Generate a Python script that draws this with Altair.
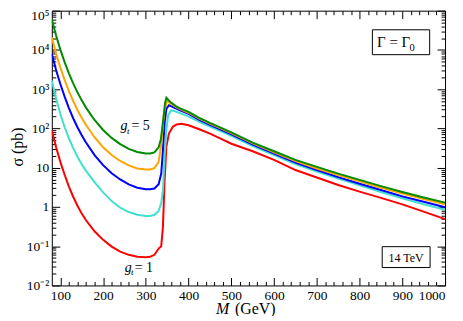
import altair as alt
import pandas as pd

FONT = "Liberation Serif, Times New Roman, serif"
W, H = 395, 276

# ---- data (sigma in pb vs M in GeV) ----
left_grid = [80, 90, 100, 110, 120, 130, 140, 150, 160, 180, 200, 220, 240, 260, 280, 300, 310, 320, 330]
right_grid = [370, 380, 400, 425, 450, 475, 500, 550, 600, 650, 700, 750, 800, 850, 900, 950, 1000]

m_green = left_grid + [335, 340, 345, 348, 355, 360] + right_grid
s_green = [60300, 23400, 10200, 4900, 2540, 1410, 832, 519, 339, 164, 91.2, 57.5, 39.8, 30.2, 25.1, 22.9,
           22.9, 24.5, 33, 52, 141, 447, 603, 501, 447, 372, 324, 263, 186, 138, 105, 79,
           43.6, 26.3, 15.8, 10.5, 7.08, 4.90, 3.39, 2.40, 1.74, 1.29]

m_orange = left_grid + [336, 340, 344, 350, 355, 360] + right_grid
s_orange = [20900, 8130, 3550, 1720, 891, 501, 295, 186, 122, 59.6, 33.1, 21.1, 14.8, 11.4, 9.55, 9.02,
            9.02, 9.77, 14.1, 39.8, 126, 316, 501, 457, 417, 355, 309, 251, 178, 132, 100, 75.9,
            41.7, 24.5, 14.8, 9.55, 6.46, 4.47, 3.09, 2.19, 1.58, 1.17]

m_blue = left_grid + [336, 340, 344, 348, 354, 360] + right_grid
s_blue = [7940, 3090, 1350, 646, 331, 182, 107, 66.8, 43.7, 20.9, 11.6, 7.24, 5.01, 3.76, 3.09, 2.82,
          2.82, 2.95, 3.80, 7.08, 28.2, 141, 316, 389, 363, 324, 288, 234, 166, 123, 93.3, 70.8,
          38.9, 22.9, 13.5, 8.71, 5.75, 3.89, 2.69, 1.86, 1.35, 0.98]

m_turq = left_grid + [336, 340, 344, 348, 352, 359, 365] + right_grid
s_turq = [1660, 575, 234, 107, 56.2, 31.6, 19.1, 12.3, 8.32, 4.27, 2.34, 1.41, 0.955, 0.741, 0.631, 0.589,
          0.589, 0.631, 0.794, 1.26, 2.69, 19.1, 89.1, 214, 288, 282, 269, 245, 200, 148, 112, 85.1, 64.6,
          35.5, 20.9, 12.3, 7.94, 5.25, 3.55, 2.40, 1.66, 1.17, 0.851]

m_red = left_grid + [336, 340, 344, 348, 354, 363, 372, 383] + [400, 425, 450, 475, 500, 550, 600, 650,
                                                              700, 750, 800, 850, 900, 950, 1000]
s_red = [89.1, 33.1, 14.1, 6.61, 3.31, 1.82, 1.07, 0.676, 0.457, 0.240, 0.145, 0.0977, 0.0724, 0.0603,
         0.0537, 0.0525, 0.0537, 0.0603, 0.0871, 0.10, 0.316, 4.90, 33.9, 74.1, 110, 126, 132,
         120, 95.5, 74.1, 55, 40.7, 26.3, 15.8, 8.71, 5.62, 3.63, 2.45, 1.70, 1.16, 0.759, 0.490]

names = ["red", "turquoise", "blue", "orange", "green"]
colors = ["#ff0000", "#40e0d0", "#0000ff", "#ffa500", "#008b00"]
series = [(m_red, s_red), (m_turq, s_turq), (m_blue, s_blue), (m_orange, s_orange), (m_green, s_green)]

x_labels = [100, 200, 300, 400, 500, 600, 700, 800, 900, 1000]
y_labels = [0.01, 0.1, 1, 10, 100, 1000, 10000, 100000]
y_label_text = ["10⁻²", "10⁻¹", "1", "10", "10²", "10³", "10⁴", "10⁵"]

x_ticks = list(range(100, 1001, 20))
y_ticks = [k * 10.0 ** d for d in range(-2, 5) for k in range(1, 10)] + [1e5]

rows = []
for i, (name, (ms, ss)) in enumerate(zip(names, series)):
    for j, (m, s) in enumerate(zip(ms, ss)):
        rows.append({"curve": name, "k": i, "j": j, "M": m, "sigma": s})
df = pd.DataFrame(rows)

xs = alt.Scale(domain=[80, 1000], nice=False, zero=False)
ys = alt.Scale(type="log", domain=[0.01, 1e5], nice=False)

label_expr = "[" + ",".join("'%s'" % t for t in y_label_text) + "][round(log(datum.value)/LN10)+2]"

lines = alt.Chart(df).mark_line(strokeWidth=2, clip=True).encode(
    x=alt.X("M:Q", scale=xs, axis=alt.Axis(
        orient="bottom", values=x_labels, title=None, ticks=False, domain=False, grid=False,
        labelFont=FONT, labelFontSize=13.5, labelPadding=3, labelColor="black", format="d")),
    y=alt.Y("sigma:Q", scale=ys, axis=alt.Axis(
        orient="left", values=y_labels, labelExpr=label_expr, title=None, ticks=False, domain=False,
        grid=False, labelFont=FONT, labelFontSize=13.5, labelPadding=3, labelColor="black",
        labelOffset={"condition": {"test": "datum.value >= 100000", "value": 5}, "value": 0})),
    color=alt.Color("curve:N", scale=alt.Scale(domain=names, range=colors), legend=None),
    detail="k:N",
    order="j:Q",
)

x_tick_size = {"condition": {"test": "datum.value % 100 === 0", "value": 8}, "value": 4}
y_tick_size = {"condition": {"test": "abs(log(datum.value)/LN10 - round(log(datum.value)/LN10)) < 0.001",
                             "value": 8}, "value": 4}


def tick_layer(xorient, yorient):
    return alt.Chart(df).mark_point(opacity=0).encode(
        x=alt.X("M:Q", scale=xs, axis=alt.Axis(
            orient=xorient, offset=-H, values=x_ticks, labels=False, domain=False, grid=False,
            title=None, tickColor="black", tickWidth=1, tickSize=x_tick_size)),
        y=alt.Y("sigma:Q", scale=ys, axis=alt.Axis(
            orient=yorient, offset=-W, values=y_ticks, labels=False, domain=False, grid=False,
            title=None, tickColor="black", tickWidth=1, tickSize=y_tick_size)),
    )


ticks_a = tick_layer("top", "right")    # bottom & left inner ticks
ticks_b = tick_layer("bottom", "left")  # top & right inner ticks

# ---- annotations ----
box_df = pd.DataFrame({"x1": [830, 853], "x2": [964, 965], "y1": [7570, 0.0286], "y2": [32600, 0.0973]})
boxes = alt.Chart(box_df).mark_rect(fillOpacity=0, stroke="black", strokeWidth=1).encode(
    x=alt.X("x1:Q", scale=xs, axis=None), x2="x2:Q",
    y=alt.Y("y1:Q", scale=ys, axis=None), y2="y2:Q")

gam_df = pd.DataFrame({"M": [841], "s": [11600], "t": ["Γ = Γ"]})
gam = alt.Chart(gam_df).mark_text(font=FONT, fontSize=15, align="left", baseline="alphabetic",
                                  color="black").encode(
    x=alt.X("M:Q", scale=xs, axis=None), y=alt.Y("s:Q", scale=ys, axis=None), text="t:N")
gam0_df = pd.DataFrame({"M": [917], "s": [9300], "t": ["0"]})
gam0 = alt.Chart(gam0_df).mark_text(font=FONT, fontSize=10.5, align="left", baseline="alphabetic",
                                    color="black").encode(
    x=alt.X("M:Q", scale=xs, axis=None), y=alt.Y("s:Q", scale=ys, axis=None), text="t:N")

tev_df = pd.DataFrame({"M": [909], "s": [0.0406], "t": ["14 TeV"]})
tev = alt.Chart(tev_df).mark_text(font=FONT, fontSize=12, align="center", baseline="alphabetic",
                                  color="black").encode(
    x=alt.X("M:Q", scale=xs, axis=None), y=alt.Y("s:Q", scale=ys, axis=None), text="t:N")

g_df = pd.DataFrame({"M": [240.8, 250.8], "s": [89.8, 0.0226], "t": ["g", "g"]})
g_mark = alt.Chart(g_df).mark_text(font=FONT, fontSize=14, fontStyle="italic", align="left",
                                   baseline="alphabetic", color="black").encode(
    x=alt.X("M:Q", scale=xs, axis=None), y=alt.Y("s:Q", scale=ys, axis=None), text="t:N")
t_df = pd.DataFrame({"M": [256, 265.5], "s": [73.3, 0.019], "t": ["t", "t"]})
t_mark = alt.Chart(t_df).mark_text(font=FONT, fontSize=9, fontStyle="italic", align="left",
                                   baseline="alphabetic", color="black").encode(
    x=alt.X("M:Q", scale=xs, axis=None), y=alt.Y("s:Q", scale=ys, axis=None), text="t:N")
eq_df = pd.DataFrame({"M": [266.4, 274.1], "s": [89.8, 0.0226], "t": ["= 5", "= 1"]})
eq_mark = alt.Chart(eq_df).mark_text(font=FONT, fontSize=14, align="left",
                                     baseline="alphabetic", color="black").encode(
    x=alt.X("M:Q", scale=xs, axis=None), y=alt.Y("s:Q", scale=ys, axis=None), text="t:N")

# axis titles
xt1 = alt.Chart(pd.DataFrame({"t": ["M"]})).mark_text(
    font=FONT, fontSize=16, fontStyle="italic", align="left", baseline="alphabetic", color="black"
).encode(x=alt.value(165), y=alt.value(305), text="t:N")
xt2 = alt.Chart(pd.DataFrame({"t": ["(GeV)"]})).mark_text(
    font=FONT, fontSize=16, align="left", baseline="alphabetic", color="black"
).encode(x=alt.value(184), y=alt.value(305), text="t:N")
yt = alt.Chart(pd.DataFrame({"t": ["σ (pb)"]})).mark_text(
    font=FONT, fontSize=16, align="center", baseline="middle", angle=270, color="black"
).encode(x=alt.value(-34), y=alt.value(137), text="t:N")

chart = alt.layer(
    lines, ticks_a, ticks_b, boxes, gam, gam0, tev, g_mark, t_mark, eq_mark, xt1, xt2, yt
).resolve_axis(x="independent", y="independent").properties(
    width=W, height=H,
    padding={"left": 44, "top": 2, "right": 10, "bottom": 30},
    autosize=alt.AutoSizeParams(type="none"),
).configure(font=FONT).configure_view(stroke="black", strokeWidth=1).configure_axis(
    labelFont=FONT, labelFontSize=13.5, labelColor="black"
).configure_text(font=FONT)

chart.save("out.html", embed_options={"renderer": "svg", "actions": False})
